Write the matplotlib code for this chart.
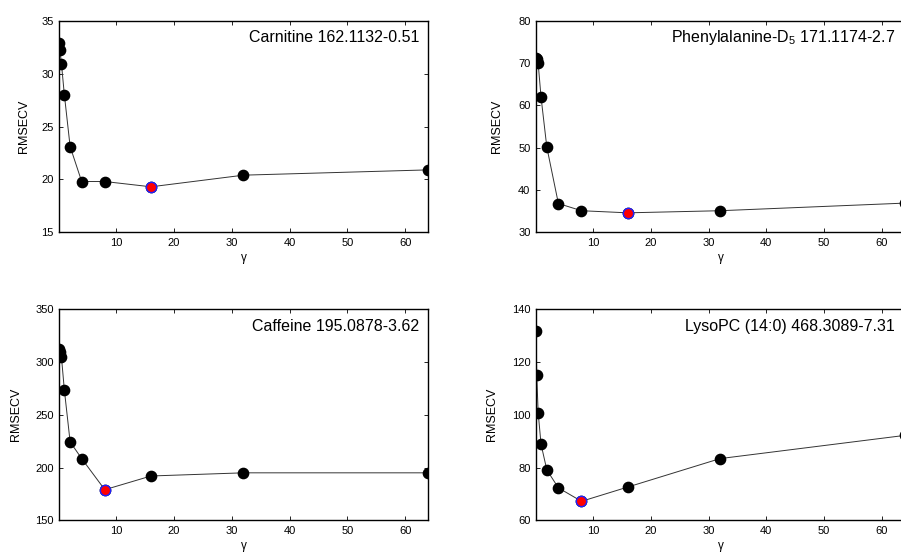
import matplotlib
matplotlib.use("Agg")
import matplotlib.pyplot as plt

plt.rcParams['font.family'] = ['Liberation Sans', 'DejaVu Sans']
plt.rcParams['mathtext.fontset'] = 'custom'
plt.rcParams['mathtext.rm'] = 'Liberation Sans'
plt.rcParams['mathtext.it'] = 'Liberation Sans:italic'

gamma = [0.125, 0.25, 0.5, 1, 2, 4, 8, 16, 32, 64]

carnitine = [32.9, 32.2, 30.9, 28.0, 23.1, 19.8, 19.8, 19.3, 20.4, 20.9]
phenylalanine = [71.3, 71.0, 69.9, 61.9, 50.1, 36.8, 35.1, 34.6, 35.1, 36.9]
caffeine = [312.7, 309.6, 304.5, 273.5, 224.3, 208.5, 179.0, 192.0, 195.0, 195.0]
lysopc = [131.9, 115.2, 100.8, 88.8, 79.1, 72.3, 67.2, 72.6, 83.4, 92.2]

titles = ["Carnitine 162.1132-0.51",
          "Phenylalanine-D$_5$ 171.1174-2.7",
          "Caffeine 195.0878-3.62",
          "LysoPC (14:0) 468.3089-7.31"]
best_index = [7, 7, 6, 6]
ylims = [(15, 35), (30, 80), (150, 350), (60, 140)]
yticks = [[15, 20, 25, 30, 35], [30, 40, 50, 60, 70, 80],
          [150, 200, 250, 300, 350], [60, 80, 100, 120, 140]]
xticks = [10, 20, 30, 40, 50, 60]
series = [carnitine, phenylalanine, caffeine, lysopc]

W, H = 901, 552
fig = plt.figure(figsize=(W / 100, H / 100), dpi=100)

# axes boxes in pixels: left, top, right, bottom
boxes = [(59.3, 20.7, 428.3, 232.3), (536.0, 20.7, 905.0, 232.3),
         (59.3, 309.3, 428.3, 520.3), (536.0, 309.3, 905.0, 520.3)]
ylabel_off = [-29, -33, -37, -38]

for i in range(4):
    l, t, r, b = boxes[i]
    ax = fig.add_axes([l / W, 1 - b / H, (r - l) / W, (b - t) / H])
    y = series[i]
    ax.plot(gamma, y, '-', color='#333333', lw=0.7, zorder=2)
    ax.plot(gamma, y, 'o', color='black', ms=7.4, mec='black', zorder=3)
    k = best_index[i]
    ax.plot([gamma[k]], [y[k]], 'o', mfc='red', mec='#2020ff', mew=1.0,
            ms=7.4, zorder=4)
    ax.set_xlim(gamma[0], gamma[-1])
    ax.set_ylim(*ylims[i])
    ax.set_xticks(xticks)
    ax.set_yticks(yticks[i])
    ax.tick_params(direction='in', top=True, right=True, length=3,
                   width=0.6, labelsize=8, pad=4)
    for s in ax.spines.values():
        s.set_linewidth(1.0)
    ax.set_ylabel('RMSECV', fontsize=9)
    ax.yaxis.set_label_coords(ylabel_off[i] / (r - l), 0.5)
    ax.set_xlabel('γ', fontsize=8.5, labelpad=3)
    ax.annotate(titles[i], xy=(1, 1), xycoords='axes fraction',
                xytext=(-9 if i % 2 == 0 else -10, -17),
                textcoords='offset pixels', ha='right', va='center',
                fontsize=11.5)

fig.savefig('out.png', dpi=100)
